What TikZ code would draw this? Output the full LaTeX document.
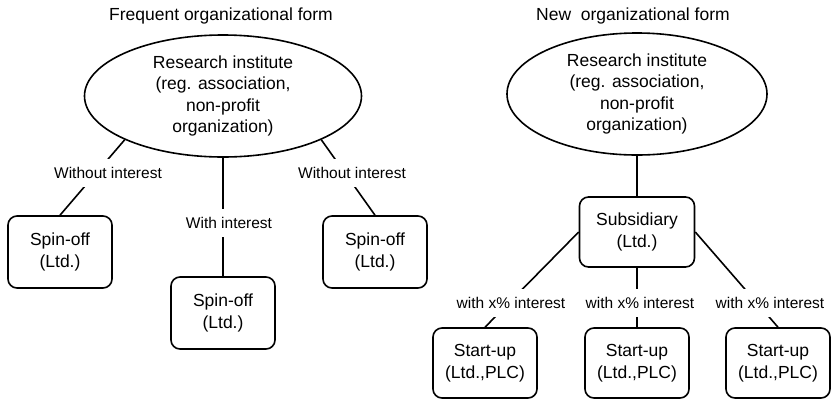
\documentclass[tikz,border=0pt]{standalone}
\usepackage{fontspec}
\setmainfont{Liberation Sans}
\usetikzlibrary{shapes.geometric}
\begin{document}
\begin{tikzpicture}[x=1pt,y=-1pt,
  every node/.style={font=\fontsize{17.5}{21.5}\selectfont, align=center},
  inst/.style={ellipse, draw, line width=1.6pt, inner sep=0pt, minimum height=122pt},
  box/.style={draw, rounded corners=9pt, line width=1.6pt, minimum width=104pt, minimum height=72pt, inner sep=0pt},
  lbl/.style={fill=white, font=\fontsize{15.5}{18}\selectfont, inner xsep=1pt, inner ysep=8pt, text height=11.5pt, text depth=1pt},
  link/.style={line width=1.6pt}]
\useasboundingbox (0,0) rectangle (831,400);
% titles
\node (t1) at (221,16) {Frequent organizational form};
\node (t2) at (633,16) {New\ \ organizational form};
% left side
\node[inst, minimum width=277pt] (e1) at (223,96) {Research institute\\(reg. association,\\non-profit\\organization)};
\node[box] (b1) at (60,252) {Spin-off\\(Ltd.)};
\node[box] (b2) at (223,313) {Spin-off\\(Ltd.)};
\node[box] (b3) at (375,252) {Spin-off\\(Ltd.)};
\draw[link] (e1.204) -- (b1.north);
\draw[link] (e1.south) -- (b2.north);
\draw[link] (e1.336) -- (b3.north);
\node[lbl] (l1) at (108,173) {Without interest};
\node[lbl] (l2) at (229,223) {With interest};
\node[lbl] (l3) at (352,173) {Without interest};
% right side
\node[inst, minimum width=260pt] (e2) at (637,94) {Research institute\\(reg. association,\\non-profit\\organization)};
\node[box, minimum width=115pt, minimum height=70pt] (s) at (637,232) {Subsidiary\\(Ltd.)};
\node[box, minimum height=70pt] (u1) at (485,363) {Start-up\\(Ltd.,PLC)};
\node[box, minimum height=70pt] (u2) at (637,363) {Start-up\\(Ltd.,PLC)};
\node[box, minimum height=70pt] (u3) at (778,363) {Start-up\\(Ltd.,PLC)};
\draw[link] (e2.south) -- (s.north);
\draw[link] (s.west) -- (u1.north);
\draw[link] (s.south) -- (u2.north);
\draw[link] (s.east) -- (u3.north);
\node[lbl] (m1) at (511,303) {with x\% interest};
\node[lbl] (m2) at (640,303) {with x\% interest};
\node[lbl] (m3) at (770,303) {with x\% interest};
\end{tikzpicture}
\end{document}
